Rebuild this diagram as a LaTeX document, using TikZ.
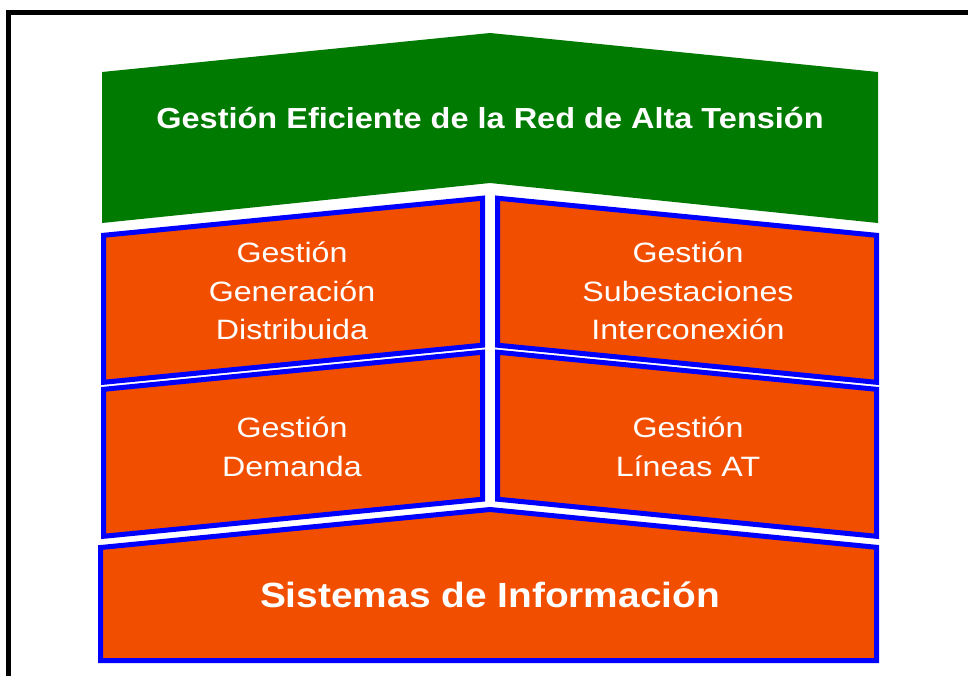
\documentclass[tikz,border=0pt]{standalone}
\usepackage{fontspec}
\setmainfont{Liberation Sans}
\definecolor{topgreen}{RGB}{0,122,0}
\definecolor{boxorange}{RGB}{242,78,0}
\definecolor{boxblue}{RGB}{0,0,255}
\begin{document}
\begin{tikzpicture}[x=1pt,y=-1pt,
  blockbox/.style={fill=boxorange,draw=boxblue,line width=5pt,line join=miter},
  boxtext/.style={text=white,align=center,font=\fontsize{28}{38.5}\selectfont,xscale=1.15,inner sep=0pt},
  titletext/.style={text=white,font=\bfseries\fontsize{29}{35}\selectfont,xscale=1.12,inner sep=0pt}]
\useasboundingbox (0,0) rectangle (968,675);
\clip (0,0) rectangle (968,675);
\fill[white] (0,0) rectangle (968,675);
% outer frame (cut on right and bottom)
\draw[line width=5pt] (8.5,12.5) rectangle (1000,720);
% green roof
\fill[topgreen] (102,223) -- (102,72) -- (490,33) -- (878,72) -- (878,223) -- (490,183) -- cycle;
\node[titletext] (title) at (490,118) {Gestión Eficiente de la Red de Alta Tensión};
% row 1
\draw[blockbox] (103.5,235.3) -- (482.5,198.2) -- (482.5,345.2) -- (103.5,382.3) -- cycle;
\draw[blockbox] (497.5,198.2) -- (876.5,235.3) -- (876.5,382.3) -- (497.5,345.2) -- cycle;
% row 2
\draw[blockbox] (103.5,389.3) -- (482.5,352.2) -- (482.5,499.2) -- (103.5,536.3) -- cycle;
\draw[blockbox] (497.5,352.2) -- (876.5,389.3) -- (876.5,536.3) -- (497.5,499.2) -- cycle;
% base
\draw[blockbox] (100.5,547.5) -- (490,509.5) -- (876.5,547.3) -- (876.5,660.5) -- (100.5,660.5) -- cycle;
% texts
\node[boxtext] (gd) at (292,291) {Gestión\\Generación\\Distribuida};
\node[boxtext] (gs) at (688,291) {Gestión\\Subestaciones\\Interconexión};
\node[boxtext] (gdem) at (292,447) {Gestión\\Demanda};
\node[boxtext] (gl) at (688,447) {Gestión\\Líneas AT};
\node[text=white,font=\bfseries\fontsize{35}{40}\selectfont,xscale=1.11,inner sep=0pt] (si) at (490,595) {Sistemas de Información};
\end{tikzpicture}
\end{document}
